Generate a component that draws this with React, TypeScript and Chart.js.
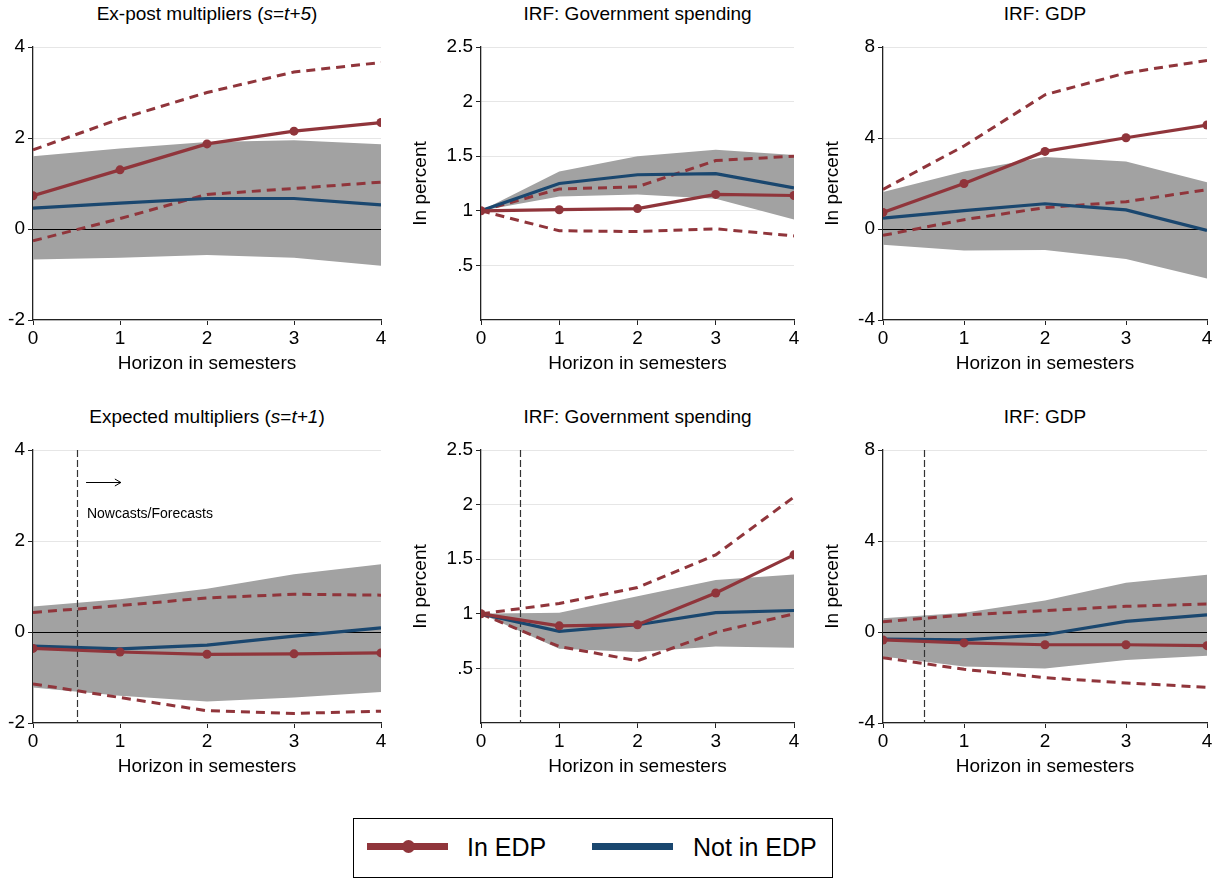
import React, { useEffect, useRef } from "react";
import { Chart, registerables } from "chart.js";

Chart.register(...registerables);

const FONT = '"Liberation Sans", Arial, Helvetica, sans-serif';
Chart.defaults.font.family = FONT;

const RED = "#90353b";
const BLUE = "#1a476f";
const BAND = "#a2a2a2";
const GRID = "#e6e6e6";
const AXIS = "#222222";

const horizons = [0, 1, 2, 3, 4];

// Ex-post multipliers (s=t+5)
const expostInEdp = [0.73, 1.3, 1.87, 2.15, 2.34];
const expostInEdpHi = [1.74, 2.42, 3.0, 3.45, 3.66];
const expostInEdpLo = [-0.26, 0.23, 0.76, 0.89, 1.03];
const expostNotEdp = [0.46, 0.57, 0.67, 0.67, 0.53];
const expostNotEdpHi = [1.6, 1.77, 1.91, 1.95, 1.86];
const expostNotEdpLo = [-0.67, -0.63, -0.57, -0.63, -0.81];

// IRF: Government spending (top)
const govTopInEdp = [1.0, 1.01, 1.02, 1.15, 1.14];
const govTopInEdpHi = [1.0, 1.2, 1.22, 1.46, 1.5];
const govTopInEdpLo = [1.0, 0.817, 0.81, 0.835, 0.77];
const govTopNotEdp = [1.0, 1.25, 1.33, 1.34, 1.21];
const govTopNotEdpHi = [1.0, 1.36, 1.5, 1.56, 1.51];
const govTopNotEdpLo = [1.0, 1.13, 1.15, 1.11, 0.92];

// IRF: GDP (top)
const gdpTopInEdp = [0.73, 2.0, 3.41, 4.01, 4.57];
const gdpTopInEdpHi = [1.74, 3.65, 5.9, 6.86, 7.41];
const gdpTopInEdpLo = [-0.28, 0.41, 0.94, 1.2, 1.73];
const gdpTopNotEdp = [0.48, 0.81, 1.11, 0.84, -0.06];
const gdpTopNotEdpHi = [1.63, 2.53, 3.16, 2.97, 2.05];
const gdpTopNotEdpLo = [-0.69, -0.94, -0.92, -1.32, -2.18];

// Expected multipliers (s=t+1)
const expInEdp = [-0.36, -0.44, -0.49, -0.48, -0.46];
const expInEdpHi = [0.43, 0.58, 0.75, 0.83, 0.81];
const expInEdpLo = [-1.14, -1.44, -1.73, -1.79, -1.74];
const expNotEdp = [-0.31, -0.37, -0.29, -0.09, 0.09];
const expNotEdpHi = [0.56, 0.72, 0.95, 1.27, 1.49];
const expNotEdpLo = [-1.22, -1.4, -1.53, -1.44, -1.32];

// IRF: Government spending (bottom)
const govBotInEdp = [1.0, 0.89, 0.9, 1.19, 1.54];
const govBotInEdpHi = [1.0, 1.095, 1.24, 1.54, 2.07];
const govBotInEdpLo = [1.0, 0.7, 0.57, 0.83, 1.0];
const govBotNotEdp = [1.0, 0.84, 0.9, 1.01, 1.03];
const govBotNotEdpHi = [1.0, 1.01, 1.16, 1.31, 1.36];
const govBotNotEdpLo = [1.0, 0.68, 0.65, 0.7, 0.69];

// IRF: GDP (bottom)
const gdpBotInEdp = [-0.35, -0.48, -0.56, -0.56, -0.6];
const gdpBotInEdpHi = [0.45, 0.75, 0.94, 1.13, 1.23];
const gdpBotInEdpLo = [-1.13, -1.64, -2.01, -2.24, -2.43];
const gdpBotNotEdp = [-0.31, -0.35, -0.12, 0.47, 0.75];
const gdpBotNotEdpHi = [0.6, 0.85, 1.38, 2.17, 2.52];
const gdpBotNotEdpLo = [-1.08, -1.52, -1.6, -1.23, -1.04];

// Axis definitions
const multTicks = { min: -2, max: 4, step: 2 };
const govTicks = { min: 0, max: 2.5, step: 0.5 };
const gdpTicks = { min: -4, max: 8, step: 4 };

const nowcastBoundary = 0.5;
const nowcastArrow = { x0: 0.61, x1: 1.01, y: 3.3 };
const nowcastLabel = { x: 0.62, y: 2.6, text: "Nowcasts/Forecasts" };

const xTitle = "Horizon in semesters";
const yTitle = "In percent";
const legendLabels = ["In EDP", "Not in EDP"];

type Series = {
  inEdp: number[];
  inHi: number[];
  inLo: number[];
  notEdp: number[];
  notHi: number[];
  notLo: number[];
};

type PanelSpec = {
  title: React.ReactNode;
  series: Series;
  ticks: { min: number; max: number; step: number };
  col: number;
  row: number;
  yTitle: boolean;
  zero: boolean;
  nowcast: boolean;
  note: boolean;
};

const COLS = [
  { left: 0, width: 400, padL: 0, yW: 33, padR: 19 },
  { left: 400, width: 410, padL: 9, yW: 72, padR: 16 },
  { left: 810, width: 409, padL: 11, yW: 62, padR: 12 },
];
const ROWS = [{ top: 30 }, { top: 433 }];
const CANVAS_H = 350;
const PAD_TOP = 17;
const PAD_BOTTOM = 5;
const X_H = 55;

const panels: PanelSpec[] = [
  {
    title: (
      <>
        Ex-post multipliers (<i>s</i>=<i>t+5</i>)
      </>
    ),
    series: {
      inEdp: expostInEdp, inHi: expostInEdpHi, inLo: expostInEdpLo,
      notEdp: expostNotEdp, notHi: expostNotEdpHi, notLo: expostNotEdpLo,
    },
    ticks: multTicks, col: 0, row: 0, yTitle: false, zero: true, nowcast: false, note: false,
  },
  {
    title: "IRF: Government spending",
    series: {
      inEdp: govTopInEdp, inHi: govTopInEdpHi, inLo: govTopInEdpLo,
      notEdp: govTopNotEdp, notHi: govTopNotEdpHi, notLo: govTopNotEdpLo,
    },
    ticks: govTicks, col: 1, row: 0, yTitle: true, zero: false, nowcast: false, note: false,
  },
  {
    title: "IRF: GDP",
    series: {
      inEdp: gdpTopInEdp, inHi: gdpTopInEdpHi, inLo: gdpTopInEdpLo,
      notEdp: gdpTopNotEdp, notHi: gdpTopNotEdpHi, notLo: gdpTopNotEdpLo,
    },
    ticks: gdpTicks, col: 2, row: 0, yTitle: true, zero: true, nowcast: false, note: false,
  },
  {
    title: (
      <>
        Expected multipliers (<i>s</i>=<i>t+1</i>)
      </>
    ),
    series: {
      inEdp: expInEdp, inHi: expInEdpHi, inLo: expInEdpLo,
      notEdp: expNotEdp, notHi: expNotEdpHi, notLo: expNotEdpLo,
    },
    ticks: multTicks, col: 0, row: 1, yTitle: false, zero: true, nowcast: true, note: true,
  },
  {
    title: "IRF: Government spending",
    series: {
      inEdp: govBotInEdp, inHi: govBotInEdpHi, inLo: govBotInEdpLo,
      notEdp: govBotNotEdp, notHi: govBotNotEdpHi, notLo: govBotNotEdpLo,
    },
    ticks: govTicks, col: 1, row: 1, yTitle: true, zero: false, nowcast: true, note: false,
  },
  {
    title: "IRF: GDP",
    series: {
      inEdp: gdpBotInEdp, inHi: gdpBotInEdpHi, inLo: gdpBotInEdpLo,
      notEdp: gdpBotNotEdp, notHi: gdpBotNotEdpHi, notLo: gdpBotNotEdpLo,
    },
    ticks: gdpTicks, col: 2, row: 1, yTitle: true, zero: true, nowcast: true, note: false,
  },
];

const pts = (vals: number[]) => horizons.map((h, i) => ({ x: h, y: vals[i] }));

function fmtTick(v: number): string | null {
  if (v === 0.5) return ".5";
  return String(v);
}

function Panel({ spec }: { spec: PanelSpec }) {
  const ref = useRef<HTMLCanvasElement | null>(null);
  const col = COLS[spec.col];
  const row = ROWS[spec.row];

  useEffect(() => {
    if (!ref.current) return;
    const s = spec.series;
    const tickFont = { family: FONT, size: 19 };
    const refPlugin = {
      id: "refLines",
      beforeDatasetsDraw(chart: any) {
        const { ctx, chartArea } = chart;
        const x = chart.scales.x;
        const y = chart.scales.y;
        ctx.save();
        if (spec.zero) {
          const py = Math.round(y.getPixelForValue(0)) + 0.5;
          ctx.strokeStyle = "#000";
          ctx.lineWidth = 1;
          ctx.beginPath();
          ctx.moveTo(chartArea.left, py);
          ctx.lineTo(chartArea.right, py);
          ctx.stroke();
        }
        if (spec.nowcast) {
          const px = Math.round(x.getPixelForValue(nowcastBoundary)) + 0.5;
          ctx.strokeStyle = "#333";
          ctx.lineWidth = 1.2;
          ctx.setLineDash([7, 3]);
          ctx.beginPath();
          ctx.moveTo(px, chartArea.top);
          ctx.lineTo(px, chartArea.bottom);
          ctx.stroke();
          ctx.setLineDash([]);
        }
        if (spec.note) {
          const ax0 = x.getPixelForValue(nowcastArrow.x0);
          const ax1 = x.getPixelForValue(nowcastArrow.x1);
          const ay = Math.round(y.getPixelForValue(nowcastArrow.y)) + 0.5;
          ctx.strokeStyle = "#000";
          ctx.lineWidth = 1;
          ctx.beginPath();
          ctx.moveTo(ax0, ay);
          ctx.lineTo(ax1, ay);
          ctx.moveTo(ax1 - 6, ay - 3.5);
          ctx.lineTo(ax1, ay);
          ctx.lineTo(ax1 - 6, ay + 3.5);
          ctx.stroke();
          ctx.fillStyle = "#000";
          ctx.font = `14px ${FONT}`;
          ctx.textAlign = "left";
          ctx.textBaseline = "middle";
          ctx.fillText(
            nowcastLabel.text,
            x.getPixelForValue(nowcastLabel.x),
            y.getPixelForValue(nowcastLabel.y)
          );
        }
        ctx.restore();
      },
    };

    const chart = new Chart(ref.current, {
      type: "line",
      data: {
        datasets: [
          {
            label: legendLabels[0],
            data: pts(s.inEdp),
            borderColor: RED,
            backgroundColor: RED,
            borderWidth: 3.2,
            pointRadius: 4.5,
            pointBackgroundColor: RED,
            pointBorderWidth: 0,
            tension: 0,
            fill: false,
          },
          {
            label: legendLabels[1],
            data: pts(s.notEdp),
            borderColor: BLUE,
            borderWidth: 3.2,
            pointRadius: 0,
            tension: 0,
            fill: false,
          },
          {
            label: "In EDP upper",
            data: pts(s.inHi),
            borderColor: RED,
            borderWidth: 3,
            borderDash: [9, 6],
            pointRadius: 0,
            tension: 0,
            fill: false,
          },
          {
            label: "In EDP lower",
            data: pts(s.inLo),
            borderColor: RED,
            borderWidth: 3,
            borderDash: [9, 6],
            pointRadius: 0,
            tension: 0,
            fill: false,
          },
          {
            label: "Not in EDP lower",
            data: pts(s.notLo),
            borderWidth: 0,
            borderColor: "rgba(0,0,0,0)",
            pointRadius: 0,
            tension: 0,
            fill: false,
          },
          {
            label: "Not in EDP upper",
            data: pts(s.notHi),
            borderWidth: 0,
            borderColor: "rgba(0,0,0,0)",
            backgroundColor: BAND,
            pointRadius: 0,
            tension: 0,
            fill: "-1",
          },
        ],
      },
      options: {
        animation: false,
        responsive: false,
        events: [],
        layout: {
          padding: { left: col.padL, right: col.padR, top: PAD_TOP, bottom: PAD_BOTTOM },
        },
        plugins: {
          legend: { display: false },
          tooltip: { enabled: false },
          filler: { drawTime: "beforeDatasetsDraw" },
        } as any,
        scales: {
          x: {
            type: "linear",
            min: 0,
            max: 4,
            ticks: { stepSize: 1, font: tickFont, color: "#000", padding: 2, maxRotation: 0 },
            grid: { drawOnChartArea: false, drawTicks: true, tickLength: 5, tickColor: AXIS },
            border: { display: true, color: AXIS, width: 1.3 },
            title: { display: true, text: xTitle, font: tickFont, color: "#000", padding: 0 },
            afterFit: (sc: any) => {
              sc.height = X_H;
            },
          },
          y: {
            type: "linear",
            min: spec.ticks.min,
            max: spec.ticks.max,
            ticks: {
              stepSize: spec.ticks.step,
              font: tickFont,
              color: "#000",
              padding: 3,
              callback: (v: any) => (v === 0 && spec.ticks.min === 0 ? null : fmtTick(Number(v))),
            },
            grid: { color: GRID, lineWidth: 1, drawTicks: true, tickLength: 5, tickColor: AXIS },
            border: { display: true, color: AXIS, width: 1.3 },
            title: {
              display: spec.yTitle,
              text: yTitle,
              font: tickFont,
              color: "#000",
              padding: 0,
            },
            afterFit: (sc: any) => {
              sc.width = col.yW;
            },
          },
        },
      } as any,
      plugins: [refPlugin as any],
    });
    return () => chart.destroy();
  }, [spec]);

  return (
    <canvas
      ref={ref}
      width={col.width}
      height={CANVAS_H}
      style={{
        position: "absolute",
        left: col.left,
        top: row.top,
        width: col.width,
        height: CANVAS_H,
      }}
    />
  );
}

function PanelTitle({ spec }: { spec: PanelSpec }) {
  const col = COLS[spec.col];
  const left = col.left + col.padL + col.yW;
  const right = col.left + col.width - col.padR;
  const top = spec.row === 0 ? 3 : 406;
  return (
    <div
      style={{
        position: "absolute",
        left,
        width: right - left,
        top,
        height: 22,
        lineHeight: "22px",
        textAlign: "center",
        fontSize: 19,
        fontFamily: FONT,
        color: "#000",
        whiteSpace: "nowrap",
      }}
    >
      {spec.title}
    </div>
  );
}

function Legend() {
  const box: React.CSSProperties = {
    position: "absolute",
    left: 353,
    top: 818,
    width: 480,
    height: 60,
    border: "1.5px solid #000",
    boxSizing: "border-box",
    background: "#fff",
    fontFamily: FONT,
  };
  const text: React.CSSProperties = {
    position: "absolute",
    top: 0,
    height: 57,
    lineHeight: "57px",
    fontSize: 25,
    color: "#000",
    whiteSpace: "nowrap",
  };
  return (
    <div style={box}>
      <div style={{ position: "absolute", left: 13, top: 24, width: 81, height: 7, background: RED }} />
      <div
        style={{
          position: "absolute",
          left: 48,
          top: 21,
          width: 13,
          height: 13,
          borderRadius: "50%",
          background: RED,
        }}
      />
      <div style={{ ...text, left: 113 }}>{legendLabels[0]}</div>
      <div style={{ position: "absolute", left: 238, top: 24, width: 81, height: 7, background: BLUE }} />
      <div style={{ ...text, left: 339 }}>{legendLabels[1]}</div>
    </div>
  );
}

export default function App() {
  return (
    <div
      style={{
        position: "absolute",
        left: 0,
        top: 0,
        width: 1219,
        height: 879,
        background: "#fff",
        overflow: "hidden",
      }}
    >
      {panels.map((p, i) => (
        <Panel key={i} spec={p} />
      ))}
      {panels.map((p, i) => (
        <PanelTitle key={"t" + i} spec={p} />
      ))}
      <Legend />
    </div>
  );
}
